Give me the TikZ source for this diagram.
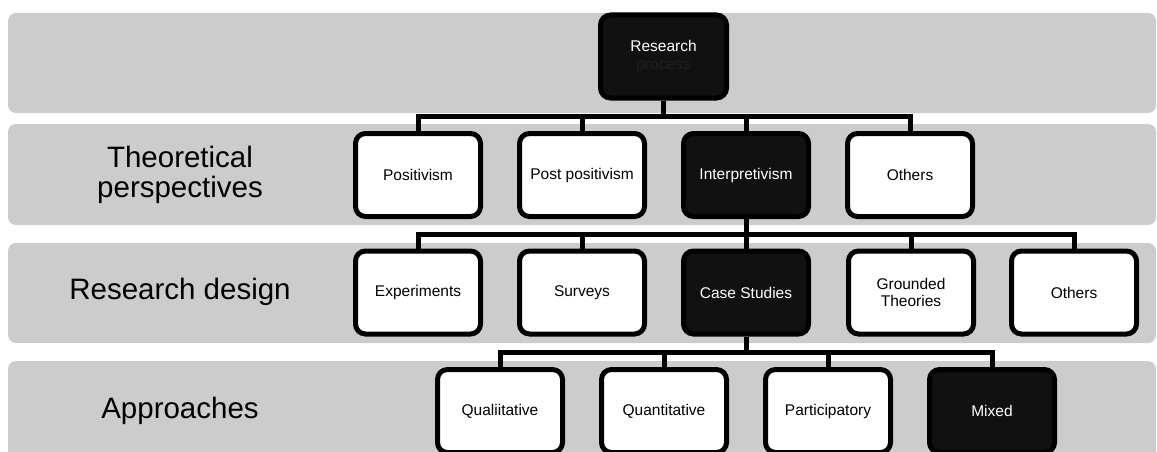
\documentclass[tikz,border=0pt]{standalone}
\usepackage{fontspec}
\setmainfont{Liberation Sans}
\pgfdeclarelayer{background}
\pgfsetlayers{background,main}
\begin{document}
\definecolor{bandgray}{HTML}{CCCCCC}
\definecolor{darkfill}{HTML}{111111}
\definecolor{faintgray}{HTML}{202020}
\begin{tikzpicture}[x=1pt,y=-1pt,
  band/.style={fill=bandgray,rounded corners=8pt},
  lvl/.style={font=\fontsize{29.5}{30}\selectfont,align=center,text=black},
  box/.style={draw=black,line width=5pt,rounded corners=10pt,
    minimum width=125pt,minimum height=83pt,inner sep=0pt,align=center,
    font=\fontsize{15.5}{17.5}\selectfont},
  lightbox/.style={box,fill=white,text=black},
  darkbox/.style={box,fill=darkfill,text=white},
  conn/.style={draw=black,line width=5pt,line join=miter}]
\useasboundingbox (0,0) rectangle (1157,452);
\clip (0,0) rectangle (1157,452);

% fork heights
\coordinate (f1) at (0,116.5);
\coordinate (f2) at (0,234);
\coordinate (f3) at (0,352);

% root
\node[darkbox,minimum width=126pt] (root) at (663.5,56.5) {Research\\\textcolor{faintgray}{process}};

% theoretical perspectives
\node[lightbox] (pos)  at (418,175) {Positivism};
\node[lightbox] (post) at (582,175) {Post positivism};
\node[darkbox]  (intp) at (746,175) {Interpretivism};
\node[lightbox] (oth1) at (910,175) {Others};

% research design
\node[lightbox] (exp)  at (418,292.5) {Experiments};
\node[lightbox] (surv) at (582,292.5) {Surveys};
\node[darkbox]  (case) at (746,292.5) {Case Studies};
\node[lightbox] (grnd) at (911,292.5) {Grounded\\Theories};
\node[lightbox] (oth2) at (1074,292.5) {Others};

% approaches
\node[lightbox] (qual) at (500,411) {Qualiitative};
\node[lightbox] (quan) at (664,411) {Quantitative};
\node[lightbox] (part) at (828,411) {Participatory};
\node[darkbox]  (mix)  at (992,411) {Mixed};

% level titles
\node[lvl] (tTheory) at (180,175) {Theoretical\\perspectives};
\node[lvl] (tDesign) at (180,292) {Research design};
\node[lvl] (tApproach) at (180,411) {Approaches};

\begin{pgfonlayer}{background}
  % horizontal bands, one per level
  \fill[band] (8,13) rectangle (1156,113);
  \fill[band] (8,124) rectangle (1156,225);
  \fill[band] (8,243) rectangle (1156,343);
  \fill[band] (8,361) rectangle (1156,470);
  % tree connectors
  \foreach \c in {pos,post,intp,oth1}
    \draw[conn] (root.south) -- (root.south |- f1) -| (\c.north);
  \foreach \c in {exp,surv,case,grnd,oth2}
    \draw[conn] (intp.south) -- (intp.south |- f2) -| (\c.north);
  \foreach \c in {qual,quan,part,mix}
    \draw[conn] (case.south) -- (case.south |- f3) -| (\c.north);
\end{pgfonlayer}
\end{tikzpicture}
\end{document}
